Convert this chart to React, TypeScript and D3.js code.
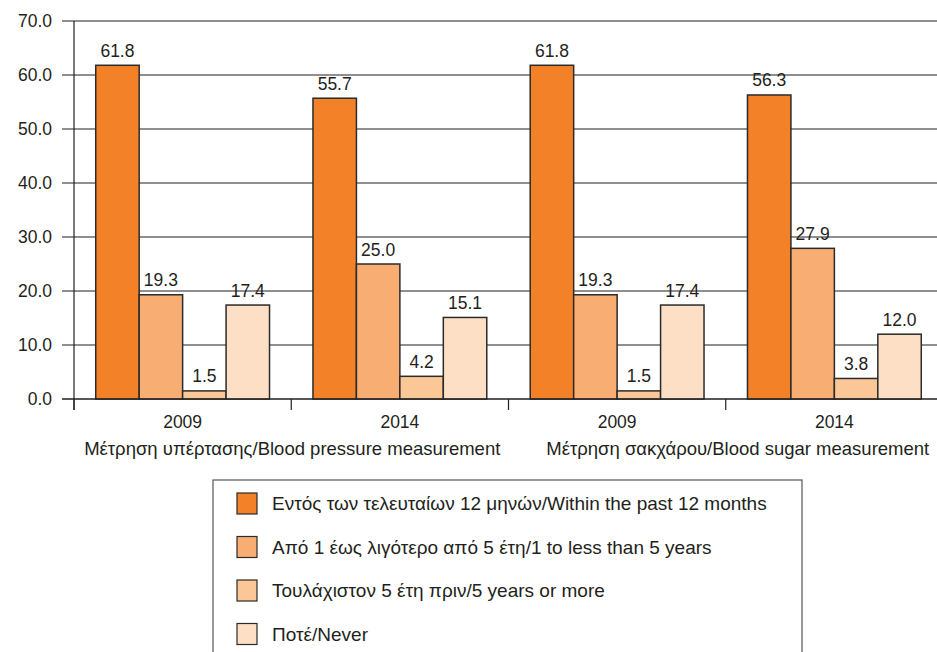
import React from "react";
import * as d3 from "d3";

const years = ["2009", "2014", "2009", "2014"];
const measurements = [
  "Μέτρηση υπέρτασης/Blood pressure measurement",
  "Μέτρηση σακχάρου/Blood sugar measurement",
];
const seriesNames = [
  "Εντός των τελευταίων 12 μηνών/Within the past 12 months",
  "Από 1 έως λιγότερο από 5 έτη/1 to less than 5 years",
  "Τουλάχιστον 5 έτη πριν/5 years or more",
  "Ποτέ/Never",
];
const within12 = [61.8, 55.7, 61.8, 56.3];
const oneToFive = [19.3, 25.0, 19.3, 27.9];
const fivePlus = [1.5, 4.2, 1.5, 3.8];
const never = [17.4, 15.1, 17.4, 12.0];
const yTicks = [0, 10, 20, 30, 40, 50, 60, 70];
const colors = ["#F28128", "#F8AD73", "#FBC796", "#FDDFC6"];

const series = [within12, oneToFive, fivePlus, never];

export default function App() {
  const W = 937, H = 652;
  const left = 74, right = 943, top = 21, bottom = 399;
  const font = "'Liberation Sans', Arial, Helvetica, sans-serif";
  const textColor = "#231f20";
  const y = d3.scaleLinear().domain([0, 70]).range([bottom, top]);
  const x0 = d3.scaleBand<number>().domain(d3.range(years.length)).range([left, right]).padding(0);
  const x1 = d3.scaleBand<number>().domain(d3.range(series.length)).range([0, x0.bandwidth()]).paddingOuter(0.5).paddingInner(0);
  const mx = d3.scaleBand<number>().domain(d3.range(measurements.length)).range([left, right]);

  const boundaries = d3.range(years.length + 1).map((i) => left + i * x0.step());

  const legendX = 213, legendY = 480, legendW = 589, rowH = 43.5;

  return (
    <svg width={W} height={H} style={{ position: "absolute", left: 0, top: 0, background: "#fff" }} fontFamily={font}>
      {yTicks.map((t) => (
        <g key={t}>
          <line x1={62} x2={W} y1={y(t)} y2={y(t)} stroke="#231f20" strokeWidth={1.2} />
          <text x={52} y={y(t) + 6.3} textAnchor="end" fontSize={17.5} fill={textColor}>{t.toFixed(1)}</text>
        </g>
      ))}
      {years.map((_, gi) =>
        series.map((s, si) => {
          const bx = (x0(gi) as number) + (x1(si) as number);
          const bw = x1.bandwidth();
          const v = s[gi];
          return (
            <g key={`${gi}-${si}`}>
              <rect x={bx} y={y(v)} width={bw} height={y(0) - y(v)} fill={colors[si]} stroke="#2b2b2b" strokeWidth={1.5} />
              <text x={bx + bw / 2} y={y(v) - 8.5} textAnchor="middle" fontSize={17.5} fill={textColor}>{v.toFixed(1)}</text>
            </g>
          );
        })
      )}
      <line x1={left} x2={left} y1={top} y2={410} stroke="#231f20" strokeWidth={1.2} />
      <line x1={62} x2={W} y1={bottom} y2={bottom} stroke="#231f20" strokeWidth={1.2} />
      {boundaries.map((b, i) => (
        <line key={i} x1={b} x2={b} y1={bottom} y2={410} stroke="#231f20" strokeWidth={1.2} />
      ))}
      {years.map((yr, gi) => (
        <text key={gi} x={(x0(gi) as number) + x0.bandwidth() / 2} y={428} textAnchor="middle" fontSize={17.5} fill={textColor}>{yr}</text>
      ))}
      {measurements.map((m, mi) => (
        <text key={mi} x={(mx(mi) as number) + mx.bandwidth() / 2 + (mi === 1 ? 12 : 1)} y={455} textAnchor="middle" fontSize={18.5} fill={textColor}>{m}</text>
      ))}
      <rect x={legendX} y={legendY} width={legendW} height={H - legendY + 5} fill="none" stroke="#555" strokeWidth={1.2} />
      {seriesNames.map((n, i) => (
        <g key={i}>
          <rect x={237} y={legendY + 13 + i * rowH} width={20} height={21} fill={colors[i]} stroke="#2b2b2b" strokeWidth={1.2} />
          <text x={272} y={legendY + 30 + i * rowH} fontSize={19} fill={textColor}>{n}</text>
        </g>
      ))}
    </svg>
  );
}
